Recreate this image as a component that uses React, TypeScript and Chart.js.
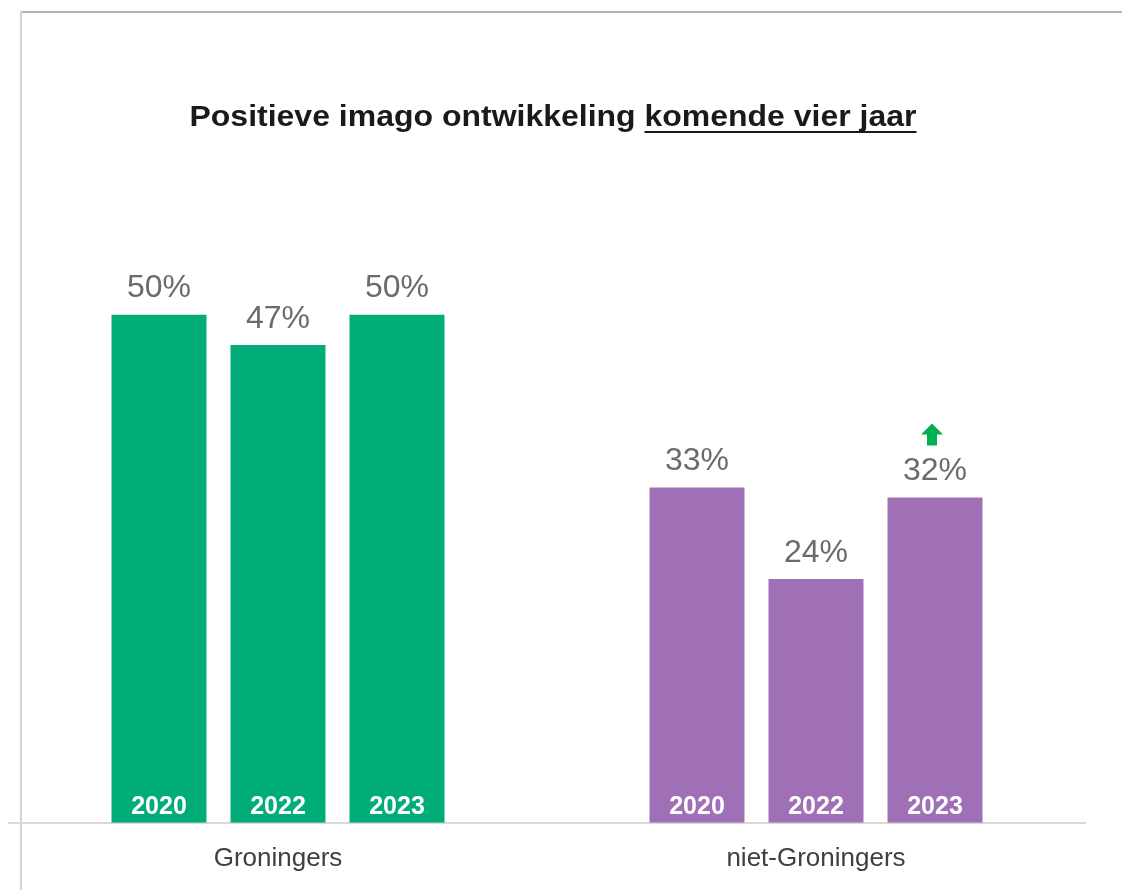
import React, { useEffect, useRef } from "react";
import { Chart, registerables } from "chart.js";

Chart.register(...registerables);

const categories = ["Groningers", "niet-Groningers"];
const years = ["2020", "2022", "2023"];
const values2020 = [50, 33];
const values2022 = [47, 24];
const values2023 = [50, 32];
const groupColors = ["#00AC78", "#A070B6"];
const titleMain = "Positieve imago ontwikkeling ";
const titleUnderlined = "komende vier jaar";
const arrowMarks = [{ dataset: 2, index: 1 }];

const FONT = "'Liberation Sans', Arial, sans-serif";

const decorPlugin = {
  id: "decor",
  beforeDraw(chart: any) {
    const ctx = chart.ctx;
    ctx.save();
    ctx.fillStyle = "#ffffff";
    ctx.fillRect(0, 0, chart.width, chart.height);
    ctx.fillStyle = "#b4b4b4";
    ctx.fillRect(20, 11, chart.width - 20, 2);
    ctx.fillStyle = "#d2d2d2";
    ctx.fillRect(20, 11, 2, chart.height - 11);
    // title
    ctx.font = `bold 29px ${FONT}`;
    ctx.fillStyle = "#1a1a1a";
    ctx.textBaseline = "alphabetic";
    const w1 = ctx.measureText(titleMain).width;
    const w2 = ctx.measureText(titleUnderlined).width;
    const sx = 727 / (w1 + w2);
    const cx = 553;
    const y = 126;
    ctx.translate(cx, 0);
    ctx.scale(sx, 1);
    const x0 = -(w1 + w2) / 2;
    ctx.textAlign = "left";
    ctx.fillText(titleMain, x0, y);
    ctx.fillText(titleUnderlined, x0 + w1, y);
    ctx.fillRect(x0 + w1, y + 5, w2, 2);
    ctx.restore();
  },
  afterDatasetsDraw(chart: any) {
    const ctx = chart.ctx;
    ctx.save();
    ctx.textAlign = "center";
    ctx.textBaseline = "middle";
    chart.data.datasets.forEach((ds: any, di: number) => {
      const meta = chart.getDatasetMeta(di);
      meta.data.forEach((bar: any, i: number) => {
        ctx.font = `32px ${FONT}`;
        ctx.fillStyle = "#6b6b6b";
        ctx.fillText(ds.data[i] + "%", bar.x, bar.y - 26);
        ctx.font = `bold 25px ${FONT}`;
        ctx.fillStyle = "#ffffff";
        ctx.fillText(years[di], bar.x, bar.base - 16);
      });
    });
    arrowMarks.forEach((m) => {
      const bar: any = chart.getDatasetMeta(m.dataset).data[m.index];
      const cx = bar.x - 3;
      const top = bar.y - 74;
      ctx.fillStyle = "#00B050";
      ctx.beginPath();
      ctx.moveTo(cx, top);
      ctx.lineTo(cx + 11, top + 11);
      ctx.lineTo(cx + 5, top + 11);
      ctx.lineTo(cx + 5, top + 22);
      ctx.lineTo(cx - 5, top + 22);
      ctx.lineTo(cx - 5, top + 11);
      ctx.lineTo(cx - 11, top + 11);
      ctx.closePath();
      ctx.fill();
    });
    ctx.restore();
  },
};

export default function App() {
  const ref = useRef<HTMLCanvasElement>(null);
  useEffect(() => {
    if (!ref.current) return;
    const chart = new Chart(ref.current, {
      type: "bar",
      data: {
        labels: categories,
        datasets: [values2020, values2022, values2023].map((d, i) => ({
          label: years[i],
          data: d,
          backgroundColor: groupColors,
          categoryPercentage: 0.6636,
          barPercentage: 0.798,
        })),
      },
      options: {
        animation: false,
        responsive: false,
        maintainAspectRatio: false,
        layout: { padding: { left: 9, right: 37, top: 213, bottom: -4 } },
        plugins: { legend: { display: false }, tooltip: { enabled: false }, title: { display: false } },
        scales: {
          x: {
            grid: { display: false, drawTicks: false },
            border: { display: true, color: "#d9d9d9", width: 2 },
            ticks: { color: "#404040", font: { family: FONT, size: 26 }, padding: 20 },
          },
          y: { display: false, min: 0, max: 60 },
        },
      },
      plugins: [decorPlugin],
    });
    return () => chart.destroy();
  }, []);
  return (
    <div style={{ position: "fixed", left: 0, top: 0, width: 1122, height: 890, background: "#fff" }}>
      <canvas ref={ref} width={1122} height={890} style={{ display: "block" }} />
    </div>
  );
}
